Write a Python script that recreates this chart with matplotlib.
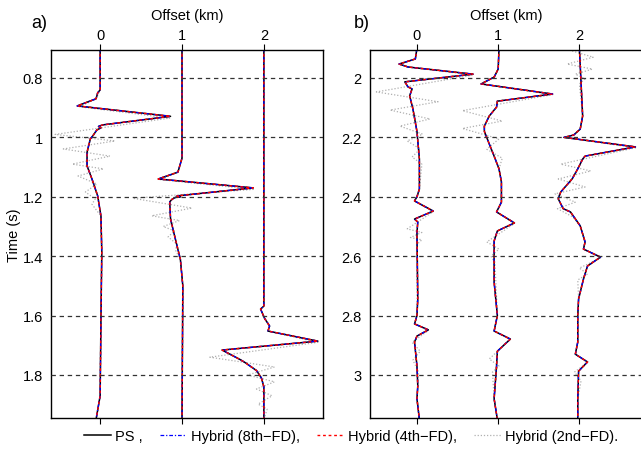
import matplotlib
matplotlib.use("Agg")
import numpy as np
import matplotlib.pyplot as plt

plt.rcParams['font.family'] = ['Liberation Sans', 'DejaVu Sans']

# trace offsets (km)
offsets = [0, 1, 2]

# ---- panel a : time (s) / deflection (km) picked from the traces ----
# PS (same curve for 8th- and 4th-order hybrid)
a0_t = [0.70, 0.84, 0.85, 0.87, 0.894, 0.929, 0.958, 0.963, 0.968, 0.975, 0.995, 1.005, 1.05, 1.096, 1.14, 1.197, 1.265, 1.386, 1.61, 1.87, 1.95]
a0_x = [0.0, 0.0, -0.03, -0.05, -0.28, 0.86, 0.03, -0.02, 0.01, -0.04, -0.09, -0.12, -0.16, -0.16, -0.1, -0.03, 0.01, 0.02, 0.01, 0.0, -0.05]
a1_t = [0.70, 1.07, 1.117, 1.14, 1.17, 1.197, 1.20, 1.202, 1.208, 1.217, 1.275, 1.366, 1.41, 1.5, 1.95]
a1_x = [0.0, 0.0, -0.05, -0.29, 0.87, -0.06, -0.02, -0.08, -0.12, -0.15, -0.14, -0.06, -0.02, 0.01, 0.0]
a2_t = [0.70, 1.568, 1.578, 1.61, 1.635, 1.652, 1.686, 1.716, 1.735, 1.748, 1.758, 1.785, 1.81, 1.84, 1.95]
a2_x = [0.0, 0.0, -0.04, 0.01, 0.07, 0.05, 0.66, -0.51, -0.38, -0.29, -0.23, -0.09, -0.03, 0.0, 0.0]
# Hybrid 2nd-FD (dispersive tail)
a0_t2 = [0.70, 0.84, 0.87, 0.897, 0.935, 0.99, 1.012, 1.039, 1.063, 1.09, 1.106, 1.13, 1.157, 1.184, 1.207, 1.225, 1.265, 1.386, 1.61, 1.87, 1.95]
a0_x2 = [0.0, 0.0, -0.05, -0.25, 0.85, -0.55, 0.18, -0.45, 0.12, -0.34, 0.04, -0.27, -0.04, -0.18, -0.06, -0.1, 0.01, 0.02, 0.01, 0.0, -0.05]
a1_t2 = [0.70, 1.07, 1.117, 1.142, 1.175, 1.205, 1.238, 1.264, 1.28, 1.30, 1.315, 1.335, 1.36, 1.38, 1.41, 1.5, 1.95]
a1_x2 = [0.0, 0.0, -0.05, -0.27, 0.87, -0.6, 0.12, -0.37, -0.03, -0.23, -0.09, -0.17, -0.06, -0.08, -0.02, 0.01, 0.0]
a2_t2 = [0.70, 1.568, 1.578, 1.61, 1.635, 1.652, 1.69, 1.74, 1.773, 1.80, 1.823, 1.847, 1.87, 1.898, 1.915, 1.95]
a2_x2 = [0.0, 0.0, -0.04, 0.01, 0.07, 0.05, 0.66, -0.66, 0.13, -0.2, 0.13, -0.09, 0.1, -0.07, 0.04, 0.0]

# ---- panel b ----
b0_t = [1.90, 1.936, 1.953, 1.963, 1.987, 2.013, 2.03, 2.037, 2.06, 2.104, 2.18, 2.273, 2.374, 2.40, 2.414, 2.448, 2.475, 2.485, 2.52, 2.744, 2.80, 2.828, 2.848, 2.869, 2.889, 2.97, 3.037, 3.08, 3.15]
b0_x = [0.0, -0.02, -0.22, -0.11, 0.69, -0.15, -0.11, -0.06, -0.09, -0.05, 0.0, 0.03, 0.03, 0.0, -0.03, 0.2, -0.03, 0.01, 0.0, 0.01, 0.0, -0.03, 0.14, 0.0, -0.03, 0.0, 0.01, 0.0, 0.03]
b1_t = [1.90, 1.97, 1.997, 2.02, 2.054, 2.078, 2.098, 2.128, 2.162, 2.18, 2.222, 2.263, 2.306, 2.35, 2.418, 2.451, 2.488, 2.515, 2.549, 2.687, 2.80, 2.852, 2.879, 2.92, 2.97, 3.08, 3.15]
b1_x = [0.01, 0.0, -0.05, -0.21, 0.67, -0.01, -0.02, -0.11, -0.17, -0.17, -0.11, -0.05, 0.01, 0.04, 0.04, -0.02, 0.2, -0.01, -0.05, -0.05, -0.01, -0.05, 0.15, -0.01, -0.02, -0.05, -0.01]
b2_t = [1.90, 2.128, 2.172, 2.192, 2.20, 2.232, 2.263, 2.273, 2.306, 2.34, 2.384, 2.407, 2.44, 2.451, 2.498, 2.552, 2.576, 2.603, 2.633, 2.677, 2.744, 2.80, 2.889, 2.93, 2.956, 2.987, 3.08, 3.15]
b2_x = [0.0, 0.04, 0.01, -0.07, -0.19, 0.69, 0.07, 0.04, -0.02, -0.09, -0.23, -0.26, -0.2, -0.11, 0.01, 0.07, 0.05, 0.26, 0.1, 0.05, -0.01, -0.02, -0.02, -0.05, 0.1, -0.01, -0.02, -0.02]
b0_t2 = [1.90, 1.936, 1.953, 1.963, 1.99, 2.047, 2.08, 2.108, 2.138, 2.162, 2.189, 2.212, 2.239, 2.266, 2.29, 2.374, 2.40, 2.414, 2.45, 2.508, 2.52, 2.537, 2.545, 2.56, 2.80, 2.828, 2.85, 2.89, 2.92, 2.95, 2.99, 3.08, 3.15]
b0_x2 = [0.0, -0.02, -0.22, -0.11, 0.69, -0.5, 0.26, -0.33, 0.16, -0.21, 0.07, -0.12, 0.04, -0.06, 0.06, 0.03, 0.0, -0.03, 0.2, -0.12, 0.06, -0.08, 0.06, 0.0, 0.0, -0.03, 0.14, -0.06, 0.04, -0.05, 0.02, 0.0, 0.03]
b1_t2 = [1.90, 1.97, 1.997, 2.02, 2.056, 2.11, 2.145, 2.17, 2.205, 2.24, 2.27, 2.306, 2.35, 2.418, 2.451, 2.49, 2.552, 2.576, 2.60, 2.62, 2.80, 2.852, 2.88, 2.946, 2.97, 2.99, 3.08, 3.15]
b1_x2 = [0.01, 0.0, -0.05, -0.21, 0.67, -0.44, 0.05, -0.44, 0.01, -0.14, 0.05, 0.01, 0.04, 0.04, -0.02, 0.2, -0.14, 0.01, -0.09, -0.04, -0.01, -0.05, 0.15, -0.11, 0.01, -0.07, -0.05, -0.01]
b2_t2 = [1.90, 1.93, 1.953, 1.97, 1.987, 2.003, 2.02, 2.128, 2.172, 2.192, 2.20, 2.235, 2.263, 2.29, 2.313, 2.34, 2.367, 2.39, 2.418, 2.44, 2.468, 2.498, 2.552, 2.576, 2.606, 2.64, 2.66, 2.68, 2.744, 2.80, 2.889, 2.93, 2.958, 2.99, 3.02, 3.08, 3.15]
b2_x2 = [-0.2, 0.17, -0.15, 0.16, -0.05, 0.07, 0.0, 0.04, 0.01, -0.07, -0.19, 0.69, 0.22, -0.23, 0.14, -0.26, 0.07, -0.3, -0.05, -0.27, -0.08, 0.01, 0.07, 0.05, 0.26, 0.0, 0.1, -0.02, -0.01, -0.02, -0.02, -0.05, 0.1, -0.06, 0.02, -0.02, -0.02]

a_traces = [(a0_t, a0_x, a0_t2, a0_x2), (a1_t, a1_x, a1_t2, a1_x2), (a2_t, a2_x, a2_t2, a2_x2)]
b_traces = [(b0_t, b0_x, b0_t2, b0_x2), (b1_t, b1_x, b1_t2, b1_x2), (b2_t, b2_x, b2_t2, b2_x2)]

a_yticks = [0.8, 1.0, 1.2, 1.4, 1.6, 1.8]
a_ylabels = ['0.8', '1', '1.2', '1.4', '1.6', '1.8']
b_yticks = [2.0, 2.2, 2.4, 2.6, 2.8, 3.0]
b_ylabels = ['2', '2.2', '2.4', '2.6', '2.8', '3']

fig = plt.figure(figsize=(6.41, 4.56), dpi=100)
ax_a = fig.add_axes([0.0796, 0.081, 0.424, 0.807])
ax_b = fig.add_axes([0.577, 0.081, 0.427, 0.807])


def draw_panel(ax, traces, xlim, ylim, yticks, ylabels, tag, tag_x):
    for off, (t, x, t2, x2) in zip(offsets, traces):
        ax.plot(off + np.array(x2), t2, color='#b0b0b0', lw=0.9, ls=(0, (1, 1.5)))
        ax.plot(off + np.array(x), t, color='black', lw=1.1, ls='-')
        ax.plot(off + np.array(x), t, color='blue', lw=0.9, ls=(0, (3, 1.5, 1, 1.5)))
        ax.plot(off + np.array(x), t, color='red', lw=1.0, ls=(0, (2, 2)))
    ax.set_xlim(*xlim)
    ax.set_ylim(*ylim)
    ax.set_xticks(offsets)
    ax.set_yticks(yticks)
    ax.set_yticklabels(ylabels)
    ax.tick_params(axis='x', top=True, bottom=True, labeltop=True, labelbottom=False,
                   direction='out', length=4, pad=2, labelsize=10.5)
    ax.tick_params(axis='y', length=0, pad=6, labelsize=10.5)
    ax.xaxis.set_label_position('top')
    ax.set_xlabel('Offset (km)', fontsize=10.5, labelpad=6)
    ax.grid(axis='y', color='#333333', lw=0.9, ls=(0, (3.5, 3)))
    ax.set_axisbelow(False)
    for sp in ax.spines.values():
        sp.set_linewidth(1.0)
    ax.text(tag_x, 1.075, tag, transform=ax.transAxes, fontsize=13, ha='center', va='center')


draw_panel(ax_a, a_traces, (-0.6, 2.72), (1.945, 0.706), a_yticks, a_ylabels, 'a)', -0.045)
draw_panel(ax_b, b_traces, (-0.58, 2.79), (3.145, 1.906), b_yticks, b_ylabels, 'b)', -0.03)
ax_a.set_ylabel('Time (s)', fontsize=10.5)
ax_a.yaxis.set_label_coords(-0.112, 0.5)

handles = [
    plt.Line2D([], [], color='black', lw=1.1),
    plt.Line2D([], [], color='blue', lw=0.9, ls=(0, (3, 1.5, 1, 1.5))),
    plt.Line2D([], [], color='red', lw=1.0, ls=(0, (2, 2))),
    plt.Line2D([], [], color='#b0b0b0', lw=0.9, ls=(0, (1, 1.5))),
]
labels = ['PS ,', 'Hybrid (8th\u2212FD),', 'Hybrid (4th\u2212FD),', 'Hybrid (2nd\u2212FD).']
fig.legend(handles, labels, loc='center', bbox_to_anchor=(0.548, 0.042), ncol=4, frameon=False,
           fontsize=10.5, handlelength=1.8, handletextpad=0.3, columnspacing=1.2)

fig.savefig('out.png', dpi=100)
